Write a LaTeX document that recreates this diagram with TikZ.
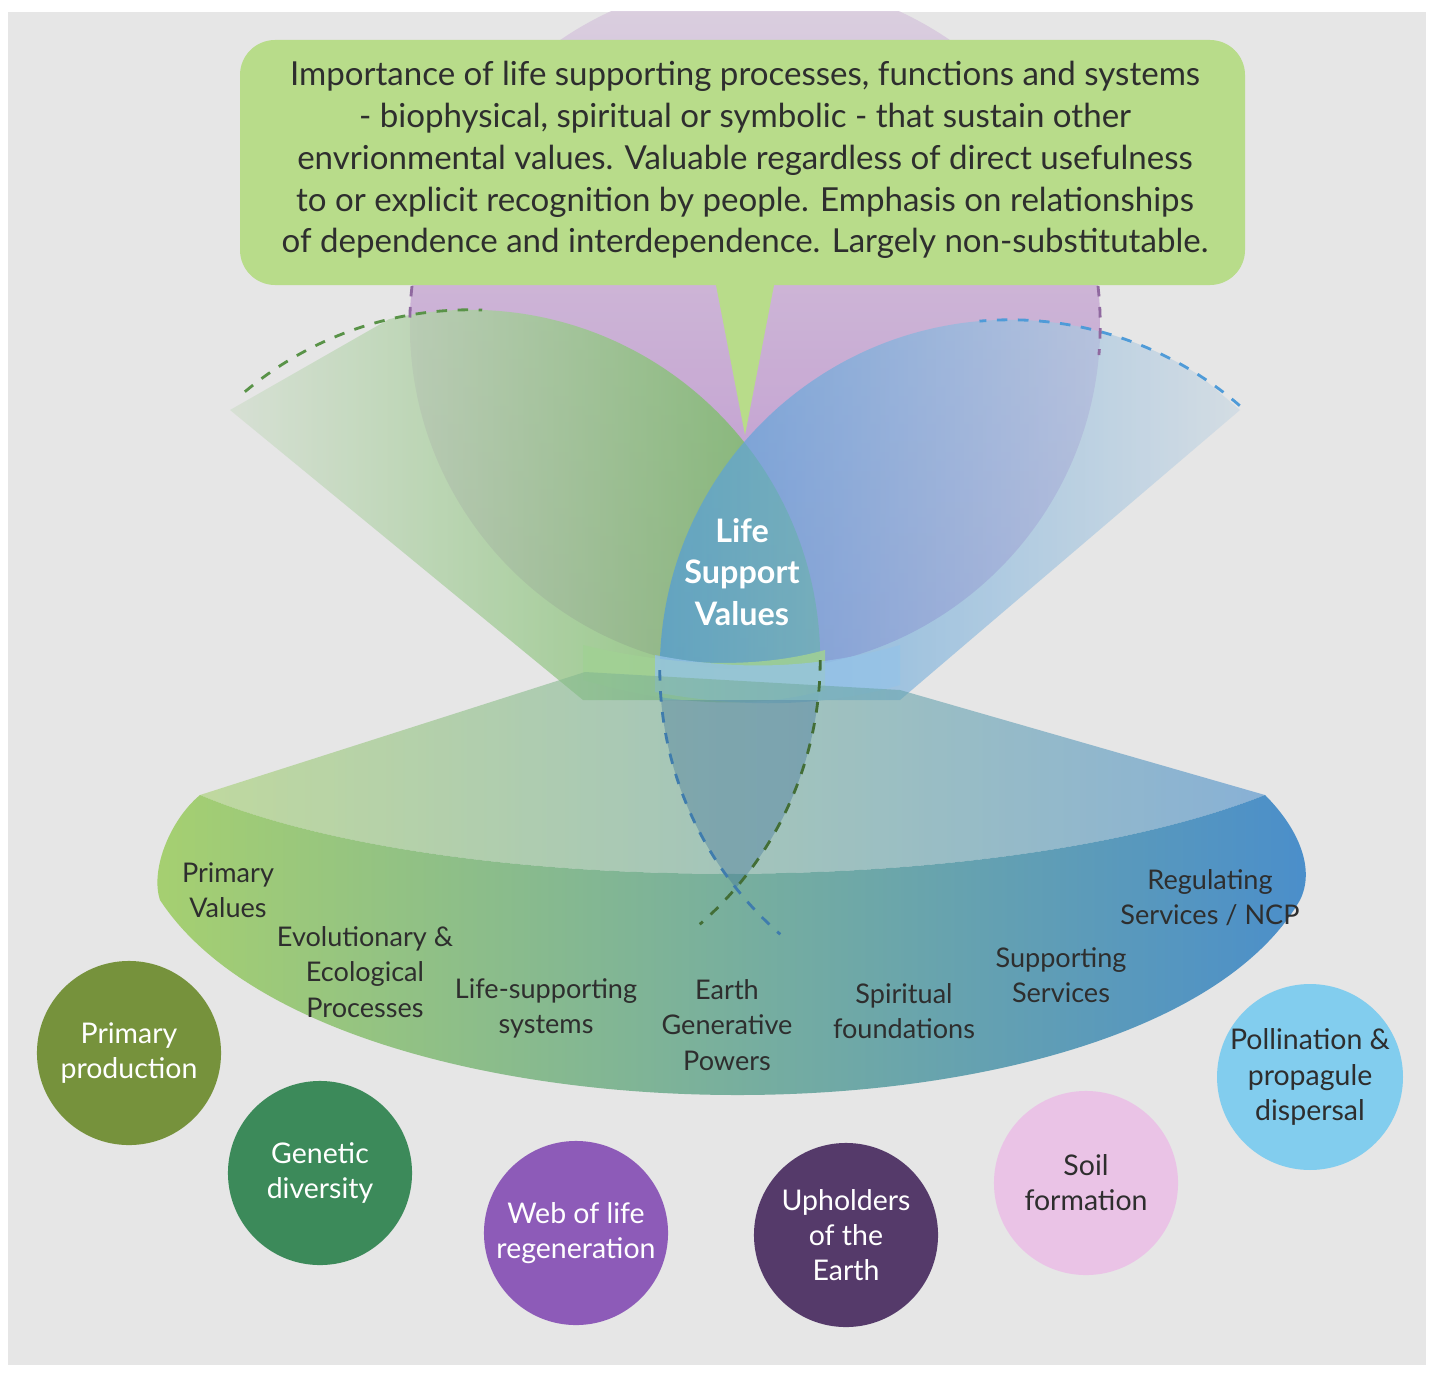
\documentclass[tikz,border=0pt]{standalone}
\usepackage{fontspec}
\setmainfont{Lato}
\usetikzlibrary{calc}
\definecolor{bgcol}{HTML}{E6E6E6}
\definecolor{calloutgreen}{HTML}{B8DC8A}
\definecolor{lifegreen}{HTML}{6FB85A}
\definecolor{lifepurple}{HTML}{B483C8}
\definecolor{lifeblue}{HTML}{4F9BD8}
\definecolor{bandpurple}{HTML}{9762B0}
\definecolor{bandblue}{HTML}{4A8ECB}
\definecolor{bandgreen}{HTML}{A6D070}
\definecolor{labeltext}{HTML}{2E2E2E}
\definecolor{ppcol}{HTML}{76923C}
\definecolor{gdcol}{HTML}{3C8A5A}
\definecolor{wlcol}{HTML}{8D5BB8}
\definecolor{upcol}{HTML}{553A6A}
\definecolor{sfcol}{HTML}{EAC3E6}
\definecolor{pdcol}{HTML}{82CDEE}
\begin{document}
\begin{tikzpicture}[x=0.01cm,y=-0.01cm,
  band label/.style={font=\fontsize{7.7}{10}\selectfont,align=center,text=labeltext},
  value node/.style={circle,minimum size=1.84cm,inner sep=0pt,align=center,
    font=\fontsize{8.1}{10}\selectfont,text=white}]

% canvas
\useasboundingbox (0,0) rectangle (1434,1376);
\fill[white] (0,0) rectangle (1434,1376);
\fill[bgcol] (8,12) rectangle (1426,1365);
\begin{scope}
\clip (8,12) rectangle (1426,1365);

% the three overlapping circles
\shade[top color=lifepurple!25!bgcol,bottom color=lifepurple,opacity=0.85] (755,325) circle[radius=3.45cm];
\begin{scope}
\clip (230,410) -- (440,290) -- (900,290) -- (900,700) -- (583,700) -- cycle;
\shade[left color=bgcol,right color=lifegreen,opacity=0.8] (470,660) circle[radius=3.5cm];
\end{scope}
\begin{scope}
\clip (1240,410) -- (1100,290) -- (600,290) -- (600,700) -- (900,700) -- cycle;
\shade[left color=lifeblue,right color=bgcol,opacity=0.7] (1010,670) circle[radius=3.5cm];
\end{scope}
\draw[dashed,thick,lifegreen!80!black] (470,660) ++(130:3.5cm) arc[start angle=130,end angle=88,radius=3.5cm];
\draw[dashed,thick,lifeblue] (1010,670) ++(49:3.5cm) arc[start angle=49,end angle=95,radius=3.5cm];
\draw[dashed,thick,lifepurple!80!black] (755,325) ++(170:3.45cm) arc[start angle=170,end angle=180,radius=3.45cm];
\draw[dashed,thick,lifepurple!80!black] (755,325) ++(10:3.45cm) arc[start angle=10,end angle=-5,radius=3.45cm];

% rims
\fill[lifegreen!65!white,opacity=0.85] (583,645) .. controls (680,668) and (760,668) .. (825,650)
  -- (825,690) .. controls (760,708) and (680,708) .. (583,680) -- cycle;
\fill[lifeblue!60!white,opacity=0.75] (655,655) .. controls (740,672) and (820,668) .. (900,645)
  -- (900,685) .. controls (820,708) and (740,708) .. (655,692) -- cycle;

% fan
\shade[left color=bandgreen,middle color=lifepurple!70!bgcol,right color=bandblue,opacity=0.6]
  (200,795) -- (585,672) -- (900,690) -- (1265,795)
  .. controls (1000,900) and (450,900) .. (200,795) -- cycle;
\shade[left color=bandgreen,middle color=bandpurple,right color=bandblue]
  (200,795) .. controls (450,900) and (1000,900) .. (1265,795)
  .. controls (1300,830) and (1315,870) .. (1300,900)
  .. controls (1150,1160) and (330,1160) .. (160,900)
  .. controls (150,870) and (170,820) .. (200,795) -- cycle;
% lower lens
\begin{scope}
\clip (0,700) rectangle (1434,1000);
\clip (470,660) circle[radius=3.5cm];
\fill[lifeblue!70!black,opacity=0.35] (1010,670) circle[radius=3.5cm];
\end{scope}
\draw[dashed,thick,lifeblue!80!black] (1010,670) ++(180:3.5cm) arc[start angle=180,end angle=229,radius=3.5cm];
\draw[dashed,thick,lifegreen!60!black] (470,660) ++(0:3.5cm) arc[start angle=0,end angle=-49,radius=3.5cm];
\end{scope}

% callout
\fill[calloutgreen,rounded corners=0.35cm] (240,40) rectangle (1245,285);
\fill[calloutgreen] (715,280) -- (775,280) -- (745,435) -- cycle;
\node[font=\fontsize{9.4}{11.9}\selectfont,align=center,text=labeltext] (callout) at (745,160)
  {Importance of life supporting processes, functions and systems\\
   - biophysical, spiritual or symbolic - that sustain other\\
   envrionmental values. Valuable regardless of direct usefulness\\
   to or explicit recognition by people. Emphasis on relationships\\
   of dependence and interdependence. Largely non-substitutable.};

\node[font=\bfseries\fontsize{9.2}{11.9}\selectfont,align=center,text=white] (lsv) at (742,572)
  {Life\\Support\\Values};

% band labels
\node[band label] (pv) at (228,890) {Primary\\Values};
\node[band label] (eep) at (365,972) {Evolutionary \&\\Ecological\\Processes};
\node[band label] (lss) at (546,1008) {Life-supporting\\systems};
\node[band label] (egp) at (727,1025) {Earth\\Generative\\Powers};
\node[band label] (sf) at (904,1011) {Spiritual\\foundations};
\node[band label] (ss) at (1061,975) {Supporting\\Services};
\node[band label] (rs) at (1210,898) {Regulating\\Services / NCP};

% value circles
\node[value node,fill=ppcol] (pp) at (129,1053) {Primary\\production};
\node[value node,fill=gdcol] (gd) at (320,1173) {Genetic\\diversity};
\node[value node,fill=wlcol] (wl) at (576,1233) {Web of life\\regeneration};
\node[value node,fill=upcol] (ue) at (846,1235) {Upholders\\of the\\Earth};
\node[value node,fill=sfcol,text=labeltext] (so) at (1086,1183) {Soil\\formation};
\node[value node,fill=pdcol,text=labeltext] (pd) at (1310,1077) {Pollination \&\\propagule\\dispersal};
\end{tikzpicture}
\end{document}
